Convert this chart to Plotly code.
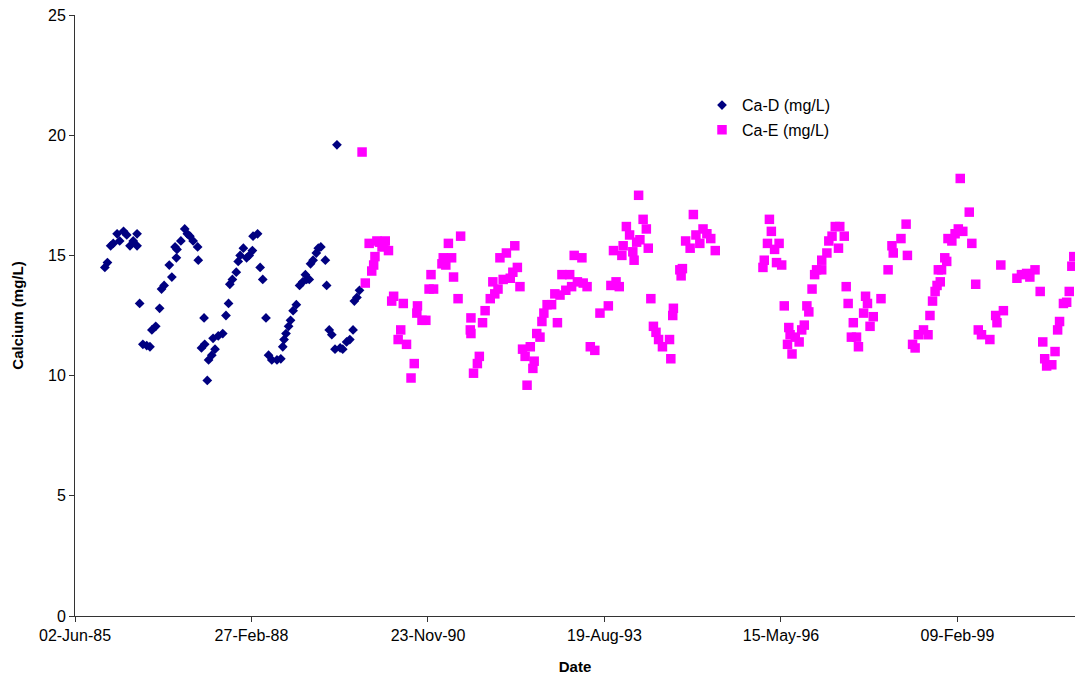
import pandas as pd
import plotly.graph_objects as go

# Ca-D (mg/L): sample dates as decimal years, and values
ca_d_years = [
    1985.88, 1985.92, 1985.97, 1986.01, 1986.07, 1986.11, 1986.17, 1986.22, 1986.27, 1986.32,
    1986.38, 1986.38, 1986.42, 1986.47, 1986.53, 1986.58, 1986.61, 1986.67, 1986.73, 1986.76,
    1986.80, 1986.88, 1986.92, 1986.99, 1986.97, 1987.00, 1987.06, 1987.12, 1987.16, 1987.20,
    1987.25, 1987.32, 1987.33, 1987.38, 1987.42, 1987.43, 1987.47, 1987.49, 1987.54, 1987.56,
    1987.59, 1987.64, 1987.71, 1987.76, 1987.80, 1987.82, 1987.86, 1987.92, 1987.95, 1987.98,
    1988.03, 1988.08, 1988.12, 1988.17, 1988.18, 1988.25, 1988.29, 1988.33, 1988.38, 1988.42,
    1988.47, 1988.55, 1988.61,
    1988.64, 1988.66, 1988.69, 1988.73, 1988.76, 1988.80, 1988.85, 1988.90, 1988.95, 1988.99,
    1989.01, 1989.05, 1989.07, 1989.11, 1989.16, 1989.19, 1989.23, 1989.30, 1989.32, 1989.36,
    1989.40, 1989.45, 1989.48, 1989.53, 1989.57, 1989.63, 1989.68, 1989.73, 1989.75, 1989.79,
    1989.83,
]
ca_d_values = [
    14.5, 14.7, 15.4, 15.5, 15.9, 15.6, 16.0, 15.85, 15.4, 15.6,
    15.9, 15.4, 13.0, 11.3, 11.25, 11.2, 11.9, 12.05, 12.8, 13.6,
    13.75, 14.6, 14.1, 14.9, 15.35, 15.25, 15.6, 16.1, 15.9, 15.8,
    15.6, 15.35, 14.8, 11.15, 12.4, 11.3, 9.8, 10.65, 10.85, 11.55,
    11.1, 11.65, 11.75, 12.5, 13.0, 13.8, 14.0, 14.3, 14.75, 15.0,
    15.3, 14.9, 15.0, 15.2, 15.8, 15.9, 14.5, 14.0, 12.4, 10.85,
    10.65, 10.65, 10.7,
    11.2, 11.5, 11.75, 12.05, 12.3, 12.7, 12.95, 13.75, 13.9, 14.2,
    14.0, 14.0, 14.65, 14.8, 15.1, 15.3, 15.35, 14.8, 13.75, 11.9,
    11.7, 11.1, 19.6, 11.15, 11.1, 11.4, 11.5, 11.9, 13.1, 13.25,
    13.55,
]

# Ca-E (mg/L): sample dates as decimal years, and values
ca_e_years = [
    1989.87, 1989.92, 1989.98, 1990.02, 1990.05, 1990.07, 1990.10, 1990.14, 1990.18, 1990.21,
    1990.23, 1990.28, 1990.33, 1990.36, 1990.43, 1990.47, 1990.51, 1990.56, 1990.63, 1990.68,
    1990.72, 1990.73, 1990.80, 1990.86, 1990.91, 1990.94, 1990.98, 1991.11, 1991.13, 1991.17,
    1991.21, 1991.26, 1991.29, 1991.36, 1991.40, 1991.55, 1991.56, 1991.56, 1991.60, 1991.66,
    1991.69, 1991.74, 1991.78, 1991.86, 1991.90, 1991.93, 1991.98, 1992.01, 1992.06, 1992.11,
    1992.17, 1992.21, 1992.24, 1992.28, 1992.32, 1992.36, 1992.40, 1992.43, 1992.48, 1992.52,
    1992.54, 1992.58, 1992.63, 1992.66, 1992.69, 1992.74, 1992.81, 1992.86, 1992.90, 1992.94,
    1992.97, 1993.03, 1993.09, 1993.12, 1993.16, 1993.21, 1993.28, 1993.30, 1993.36, 1993.41,
    1993.48, 1993.56, 1993.69, 1993.73, 1993.77, 1993.81, 1993.86, 1993.90, 1993.92, 1993.97,
    1994.02, 1994.07, 1994.09, 1994.13, 1994.16, 1994.18, 1994.23, 1994.28, 1994.31, 1994.35,
    1994.39, 1994.43, 1994.47, 1994.53, 1994.64, 1994.66, 1994.69, 1994.70, 1994.80, 1994.82,
    1994.84, 1994.89, 1994.96, 1995.01, 1995.05, 1995.11, 1995.16, 1995.22, 1995.28, 1995.35,
    1996.09, 1996.11, 1996.16, 1996.19, 1996.22, 1996.27, 1996.30, 1996.34, 1996.38, 1996.42,
    1996.47, 1996.49, 1996.51, 1996.54, 1996.59, 1996.65, 1996.69, 1996.73, 1996.77, 1996.80,
    1996.85, 1996.89, 1996.92, 1997.00, 1997.00, 1997.08, 1997.11, 1997.16, 1997.21, 1997.26,
    1997.28, 1997.35, 1997.38, 1997.41, 1997.46, 1997.49, 1997.54, 1997.57, 1997.65, 1997.68,
    1997.71, 1997.75, 1997.80, 1997.92, 1998.03, 1998.09, 1998.11, 1998.23, 1998.31, 1998.33,
    1998.41, 1998.45, 1998.50, 1998.58, 1998.65, 1998.68, 1998.72, 1998.76, 1998.79, 1998.81,
    1998.84, 1998.86, 1998.91, 1998.94, 1998.96, 1999.02, 1999.07, 1999.12, 1999.15, 1999.19,
    1999.29, 1999.33, 1999.39, 1999.43, 1999.48, 1999.61, 1999.70, 1999.72, 1999.78, 1999.82,
    2000.03, 2000.10, 2000.18, 2000.23, 2000.31, 2000.39, 2000.43, 2000.46, 2000.49, 2000.57,
    2000.62, 2000.66, 2000.69, 2000.75, 2000.80, 2000.84, 2000.88, 2000.91,
]
ca_e_values = [
    19.3, 13.85, 15.5, 14.35, 14.6, 14.95, 15.6, 15.55, 15.35, 15.55,
    15.6, 15.2, 13.1, 13.3, 11.5, 11.9, 13.0, 11.3, 9.9, 10.5,
    12.6, 12.9, 12.3, 12.3, 13.6, 14.2, 13.6, 14.65, 14.9, 14.6,
    15.5, 14.9, 14.1, 13.2, 15.8, 11.9, 12.4, 11.75, 10.1, 10.5,
    10.8, 12.2, 12.7, 13.2, 13.9, 13.4, 13.6, 14.9, 14.0, 15.1,
    14.05, 14.3, 15.4, 14.5, 13.7, 11.1, 10.8, 9.6, 11.2, 10.3,
    10.6, 11.75, 11.6, 12.25, 12.6, 12.95, 12.95, 13.4, 12.2, 13.35,
    14.2, 13.55, 14.2, 13.7, 15.0, 13.9, 14.9, 13.85, 13.7, 11.2,
    11.05, 12.6, 12.9, 13.75, 15.2, 13.9, 13.7, 15.0, 15.4, 16.2,
    15.85, 15.15, 14.8, 15.55, 17.5, 15.65, 16.5, 16.1, 15.3, 13.2,
    12.05, 11.8, 11.5, 11.2, 11.5, 10.7, 12.5, 12.8, 14.4, 14.15,
    14.45, 15.6, 15.3, 16.7, 15.85, 15.5, 16.1, 15.9, 15.7, 15.2,
    14.5, 14.8, 15.5, 16.5, 16.0, 15.25, 14.7, 15.5, 14.6, 12.9,
    11.3, 12.0, 11.7, 10.9, 11.6, 11.4, 11.9, 12.1, 12.9, 12.65,
    13.6, 14.2, 14.4, 14.4, 14.8, 15.1, 15.6, 15.8, 16.2, 15.3,
    16.2, 15.8, 13.7, 13.0, 11.6, 12.2, 11.6, 11.2, 12.6, 13.3,
    13.0, 12.05, 12.45, 13.2, 14.4, 15.4, 15.1, 15.7, 16.3, 15.0,
    11.3, 11.15, 11.7, 11.9, 11.7, 12.5, 13.1, 13.5, 13.75, 14.4,
    13.9, 14.4, 14.9, 14.75, 15.7, 15.6, 15.9, 16.1, 18.2, 16.0,
    16.8, 15.5, 13.8, 11.9, 11.7, 11.5, 12.5, 12.2, 14.6, 12.7,
    14.05, 14.2, 14.25, 14.1, 14.4, 13.5, 11.4, 10.7, 10.4, 10.45,
    11.0, 11.9, 12.25, 13.0, 13.05, 13.5, 14.55, 14.95,
]

x_tick_start = "1985-06-02"
x_range_end = "2000-12-06"
y_ticks = [0, 5, 10, 15, 20, 25]


def dec_year_to_date(y):
    yr = int(y)
    start = pd.Timestamp(yr, 1, 1)
    end = pd.Timestamp(yr + 1, 1, 1)
    return start + (end - start) * (y - yr)


d_dates = [dec_year_to_date(v) for v in ca_d_years]
e_dates = [dec_year_to_date(v) for v in ca_e_years]

FONT = "Liberation Sans, Arial, sans-serif"
AX = "#333333"

fig = go.Figure()
fig.add_trace(go.Scatter(
    x=d_dates, y=ca_d_values, mode="markers", name="Ca-D (mg/L)",
    marker=dict(symbol="diamond", size=7.5, color="#000080"),
    showlegend=True, legend="legend",
))
fig.add_trace(go.Scatter(
    x=e_dates, y=ca_e_values, mode="markers", name="Ca-E (mg/L)",
    marker=dict(symbol="square", size=9.5, color="#FF00FF"),
    showlegend=True, legend="legend2",
))

leg_common = dict(
    xanchor="left", yanchor="middle", bgcolor="rgba(0,0,0,0)",
    font=dict(family=FONT, size=16, color="black"), itemwidth=30,
    visible=True,
)
fig.update_layout(
    width=1075, height=679,
    showlegend=True,
    margin=dict(l=75, r=0, t=15, b=63),
    paper_bgcolor="white", plot_bgcolor="white",
    font=dict(family=FONT, size=16, color="black"),
    legend=dict(x=0.627, y=0.850, **leg_common),
    legend2=dict(x=0.627, y=0.809, **leg_common),
    xaxis=dict(
        type="date",
        range=[x_tick_start, x_range_end],
        tick0=x_tick_start, dtick=86400000 * 1000,
        tickformat="%d-%b-%y",
        showgrid=False, zeroline=False,
        showline=True, linecolor=AX, linewidth=1,
        ticks="outside", ticklen=5, tickcolor=AX,
        tickfont=dict(family=FONT, size=16, color="black"),
        title=dict(text="<b>Date</b>", font=dict(family=FONT, size=15, color="black"), standoff=18),
    ),
    yaxis=dict(
        range=[0, 25], tickvals=y_ticks,
        showgrid=False, zeroline=False,
        showline=True, linecolor=AX, linewidth=1,
        ticks="outside", ticklen=5, tickcolor=AX,
        tickfont=dict(family=FONT, size=16, color="black"),
        title=dict(text="<b>Calcium (mg/L)</b>", font=dict(family=FONT, size=15, color="black"), standoff=20),
    ),
)

fig.write_html("out.html")
